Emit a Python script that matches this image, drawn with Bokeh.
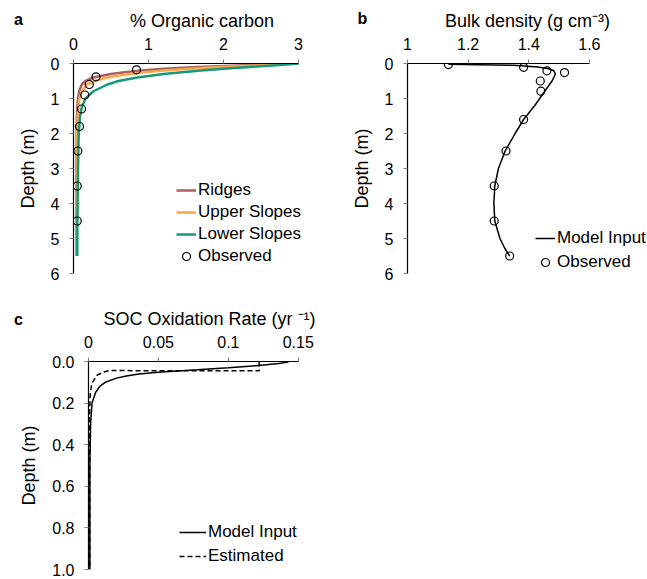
from bokeh.plotting import figure
from bokeh.models import Range1d, FixedTicker, Legend, LegendItem, Label, GridBox
from bokeh.embed import file_html
from bokeh.resources import INLINE

# ---------------- data ----------------
# Panel a: % organic carbon vs depth (m)
oc_depth = [0, 0.05, 0.1, 0.15, 0.2, 0.25, 0.3, 0.4, 0.5, 0.6, 0.8, 1.0, 1.25, 1.5, 2.0, 3.0, 4.0, 5.0, 5.5]
oc_ridges = [3.0, 2.3, 1.65, 1.2, 0.9, 0.68, 0.5, 0.26, 0.16, 0.11, 0.075, 0.06, 0.05, 0.045, 0.042, 0.04, 0.04, 0.04, 0.04]
oc_upper = [3.0, 2.5, 1.95, 1.55, 1.2, 0.95, 0.75, 0.45, 0.28, 0.18, 0.11, 0.08, 0.065, 0.056, 0.05, 0.046, 0.045, 0.045, 0.045]
oc_lower = [3.0, 2.7, 2.35, 2.0, 1.7, 1.45, 1.2, 0.85, 0.6, 0.45, 0.26, 0.16, 0.11, 0.088, 0.07, 0.06, 0.055, 0.05, 0.05]
oc_obs_depth = [0.18, 0.38, 0.6, 0.9, 1.3, 1.8, 2.5, 3.5, 4.5]
oc_obs = [0.84, 0.30, 0.21, 0.15, 0.107, 0.08, 0.058, 0.05, 0.05]

# Panel b: bulk density (g cm-3) vs depth (m)
bd_depth = [0.02, 0.05, 0.1, 0.15, 0.2, 0.3, 0.5, 0.8, 1.2, 1.6, 2.0, 2.5, 3.0, 3.5, 4.0, 4.5, 5.0, 5.3, 5.5]
bd_model = [1.135, 1.35, 1.43, 1.465, 1.482, 1.488, 1.477, 1.452, 1.42, 1.383, 1.355, 1.322, 1.300, 1.288, 1.285, 1.288, 1.305, 1.322, 1.337]
bd_obs_depth = [0.03, 0.11, 0.21, 0.26, 0.5, 0.79, 1.6, 2.5, 3.5, 4.5, 5.5]
bd_obs = [1.135, 1.383, 1.46, 1.518, 1.438, 1.44, 1.383, 1.325, 1.286, 1.286, 1.337]

# Panel c: SOC oxidation rate (yr-1) vs depth (m)
ox_depth = [0.003, 0.01, 0.02, 0.03, 0.04, 0.05, 0.06, 0.07, 0.08, 0.1, 0.12, 0.15, 0.2, 0.3, 0.5, 1.0]
ox_model = [0.143, 0.136, 0.12, 0.1, 0.078, 0.052, 0.036, 0.027, 0.02, 0.012, 0.008, 0.005, 0.0025, 0.0015, 0.001, 0.001]
est_depth = [0.0, 0.045, 0.045, 0.043, 0.051, 0.067, 0.107, 0.16, 0.25, 1.0]
est_rate = [0.122, 0.122, 0.05, 0.015, 0.0106, 0.0059, 0.0023, 0.0012, 0.0008, 0.0008]

a_xticks = [0, 1, 2, 3]
b_xticks = [1, 1.2, 1.4, 1.6]
c_xticks = [0, 0.05, 0.1, 0.15]
ab_yticks = [0, 1, 2, 3, 4, 5, 6]
c_yticks = [0, 0.2, 0.4, 0.6, 0.8, 1.0]
panel_letters = ["a", "b", "c"]

FONT = "Liberation Sans"
C_RIDGE = "#A8615F"
C_UPPER = "#F8A74C"
C_LOWER = "#16997A"


def style(p, xlabel, ylabel, xticks, yticks, xbounds, ybounds, xover=None, yover=None):
    p.outline_line_color = None
    p.xgrid.visible = False
    p.ygrid.visible = False
    p.background_fill_color = "white"
    p.border_fill_color = "white"
    for ax in (p.xaxis[0], p.yaxis[0]):
        ax.axis_line_color = "black"
        ax.axis_line_width = 1.2
        ax.major_tick_line_color = "#808080"
        ax.major_tick_in = 0
        ax.major_tick_out = 4
        ax.minor_tick_line_color = None
        ax.major_label_text_font = FONT
        ax.major_label_text_font_size = "16px"
        ax.major_label_text_color = "black"
        ax.axis_label_text_font = FONT
        ax.axis_label_text_font_size = "18px"
        ax.axis_label_text_font_style = "normal"
        ax.axis_label_text_color = "black"
    p.xaxis[0].axis_label = xlabel
    p.yaxis[0].axis_label = ylabel
    p.xaxis[0].ticker = FixedTicker(ticks=xticks)
    p.yaxis[0].ticker = FixedTicker(ticks=yticks)
    p.xaxis[0].bounds = xbounds
    p.yaxis[0].bounds = ybounds
    if xover:
        p.xaxis[0].major_label_overrides = xover
    if yover:
        p.yaxis[0].major_label_overrides = yover
    p.xaxis[0].major_label_standoff = 10
    p.xaxis[0].axis_label_standoff = 4
    p.yaxis[0].major_label_standoff = 10
    p.yaxis[0].axis_label_standoff = 10


def make_legend(items, loc, gw, gh, spacing):
    return Legend(items=items, location=loc, glyph_width=gw, glyph_height=gh,
                  label_height=gh, spacing=spacing, padding=0, margin=0, label_standoff=2,
                  label_text_font=FONT, label_text_font_size="17px", label_text_color="black",
                  border_line_color=None, background_fill_alpha=0)


# ---------------- panel a ----------------
pa = figure(width=330, height=290, x_axis_location="above", output_backend="svg",
            toolbar_location=None, x_range=Range1d(0, 3 + 32 / 75), y_range=Range1d(6, 0),
            min_border_left=73, min_border_right=0, min_border_top=63, min_border_bottom=17,
            frame_align=False)
style(pa, "% Organic carbon", "Depth (m)", a_xticks, ab_yticks, (0, 3), (0, 6))
ra = pa.line(oc_ridges, oc_depth, line_color=C_RIDGE, line_width=2.5)
ua = pa.line(oc_upper, oc_depth, line_color=C_UPPER, line_width=2.5)
la = pa.line(oc_lower, oc_depth, line_color=C_LOWER, line_width=2.5)
oa = pa.scatter(oc_obs, oc_obs_depth, marker="circle", size=8, fill_alpha=0,
                line_color="black", line_width=1.2)
pa.add_layout(make_legend([LegendItem(label="Ridges", renderers=[ra]),
                           LegendItem(label="Upper Slopes", renderers=[ua]),
                           LegendItem(label="Lower Slopes", renderers=[la]),
                           LegendItem(label="Observed", renderers=[oa])],
                          (103, 7), 20, 20, 2))

# ---------------- panel b ----------------
pb = figure(width=317, height=290, x_axis_location="above", output_backend="svg",
            toolbar_location=None, x_range=Range1d(1, 1.6 + 58 / 302.5), y_range=Range1d(6, 0),
            min_border_left=77, min_border_right=0, min_border_top=63, min_border_bottom=17,
            frame_align=False)
style(pb, "Bulk density (g cm\u207B\u00B3)", "Depth (m)", b_xticks, ab_yticks, (1, 1.6), (0, 6),
      xover={1: "1", 1.2: "1.2", 1.4: "1.4", 1.6: "1.6"})
mb = pb.line(bd_model, bd_depth, line_color="black", line_width=1.5)
ob = pb.scatter(bd_obs, bd_obs_depth, marker="circle", size=8, fill_alpha=0,
                line_color="black", line_width=1.2)
pb.add_layout(make_legend([LegendItem(label="Model Input", renderers=[mb]),
                           LegendItem(label="Observed", renderers=[ob])],
                          (128, 1), 20, 20, 4))

# ---------------- panel c ----------------
pc = figure(width=330, height=289, x_axis_location="above", output_backend="svg",
            toolbar_location=None, x_range=Range1d(0, 0.15 + 32 / 1390), y_range=Range1d(1.0, 0),
            min_border_left=88, min_border_right=0, min_border_top=71, min_border_bottom=10,
            frame_align=False)
style(pc, "SOC Oxidation Rate (yr \u207B\u00B9)", "Depth (m)", c_xticks, c_yticks, (0, 0.15), (0, 1.0),
      xover={0: "0", 0.05: "0.05", 0.1: "0.1", 0.15: "0.15"},
      yover={0: "0.0", 0.2: "0.2", 0.4: "0.4", 0.6: "0.6", 0.8: "0.8", 1.0: "1.0"})
mc = pc.line(ox_model, ox_depth, line_color="black", line_width=1.5)
ec = pc.line(est_rate, est_depth, line_color="black", line_width=1.5, line_dash="5 3")
pc.add_layout(make_legend([LegendItem(label="Model Input", renderers=[mc]),
                           LegendItem(label="Estimated", renderers=[ec])],
                          (91, 3), 27, 20, 4))

# ---------------- transparent overlay for panel letters ----------------
ov = figure(width=647, height=579, output_backend="svg", toolbar_location=None,
            x_range=Range1d(0, 647), y_range=Range1d(579, 0),
            x_axis_type=None, y_axis_type=None,
            min_border_left=0, min_border_right=0, min_border_top=0, min_border_bottom=0,
            frame_align=False)
ov.outline_line_color = None
ov.xgrid.visible = False
ov.ygrid.visible = False
ov.background_fill_color = None
ov.border_fill_color = None
for txt, (lx, ly) in zip(panel_letters, [(18, 19), (362, 18), (18, 319)]):
    ov.add_layout(Label(x=lx, y=ly, text=txt, text_font=FONT, text_font_size="16px",
                        text_font_style="bold", text_align="center", text_baseline="middle",
                        text_color="black"))

layout = GridBox(children=[(pa, 0, 0), (pb, 0, 1), (pc, 1, 0), (ov, 0, 0, 2, 2)], spacing=0)
open("out.html", "w").write(file_html(layout, INLINE))
